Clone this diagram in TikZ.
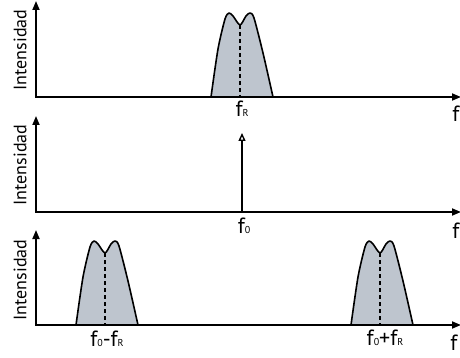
\documentclass[tikz,border=0pt]{standalone}
\usepackage{fontspec}
\setmainfont{PT Sans}
\usetikzlibrary{arrows.meta}

\definecolor{bandgray}{RGB}{190,197,206}
\newcommand{\lblsize}{\fontsize{22}{22}\selectfont}
\newcommand{\subsize}{\fontsize{10}{10}\selectfont}

\tikzset{
  axis/.style={line width=1.7pt,{Triangle[length=9pt,width=7pt]}-{Triangle[length=9pt,width=7pt]}},
  ylbl/.style={rotate=90,font=\fontsize{18}{18}\selectfont,inner sep=0pt},
  flbl/.style={font=\lblsize,anchor=base,inner sep=0pt},
  band/.pic={
    \draw[fill=bandgray,line width=1.6pt,line join=round]
      plot[smooth,tension=0.45] coordinates {(-29,0) (-22,-48) (-15,-78) (-11,-84) (-7,-81) (0,-72)
        (6,-81) (10,-84) (14,-79) (23,-44) (33,0)};
    \draw[dashed,line width=1.3pt,dash pattern=on 4pt off 3pt] (0,-72) -- (0,0);
  }
}

\begin{document}
\begin{tikzpicture}[x=1pt,y=-1pt]
\useasboundingbox (0,0) rectangle (460,358);

% first panel
\coordinate (o1) at (36,97);
\coordinate (y1) at (36,1);
\coordinate (x1) at (461,97);
\pic at (240,97) {band};
\draw[axis] (y1) -- (o1) -- (x1);
\node[ylbl] (i1) at (20,50) {Intensidad};
\node[flbl] (fr) at (242,117) {f{\subsize R}};
\node[flbl] (f1) at (456,122) {f};

% second panel
\coordinate (o2) at (36,212);
\coordinate (y2) at (36,116);
\coordinate (x2) at (461,212);
\coordinate (c2) at (242,212);
\coordinate (p2) at (242,133);
\draw[axis] (y2) -- (o2) -- (x2);
\draw[line width=1.4pt,-{Triangle[open,length=8pt,width=7pt,line width=1.4pt]}] (c2) -- (p2);
\node[ylbl] (i2) at (20,165) {Intensidad};
\node[flbl] (f0) at (244,233) {f{\subsize 0}};
\node[flbl] (f2) at (456,238) {f};

% third panel
\coordinate (o3) at (36,325);
\coordinate (y3) at (36,230);
\coordinate (x3) at (461,325);
\pic at (105,325) {band};
\pic at (380,325) {band};
\draw[axis] (y3) -- (o3) -- (x3);
\node[ylbl] (i3) at (20,280) {Intensidad};
\node[flbl] (fm) at (107,346) {f{\subsize 0}-f{\subsize R}};
\node[flbl] (fp) at (385,345) {f{\subsize 0}+f{\subsize R}};
\node[flbl] (f3) at (454,350) {f};
\end{tikzpicture}
\end{document}
